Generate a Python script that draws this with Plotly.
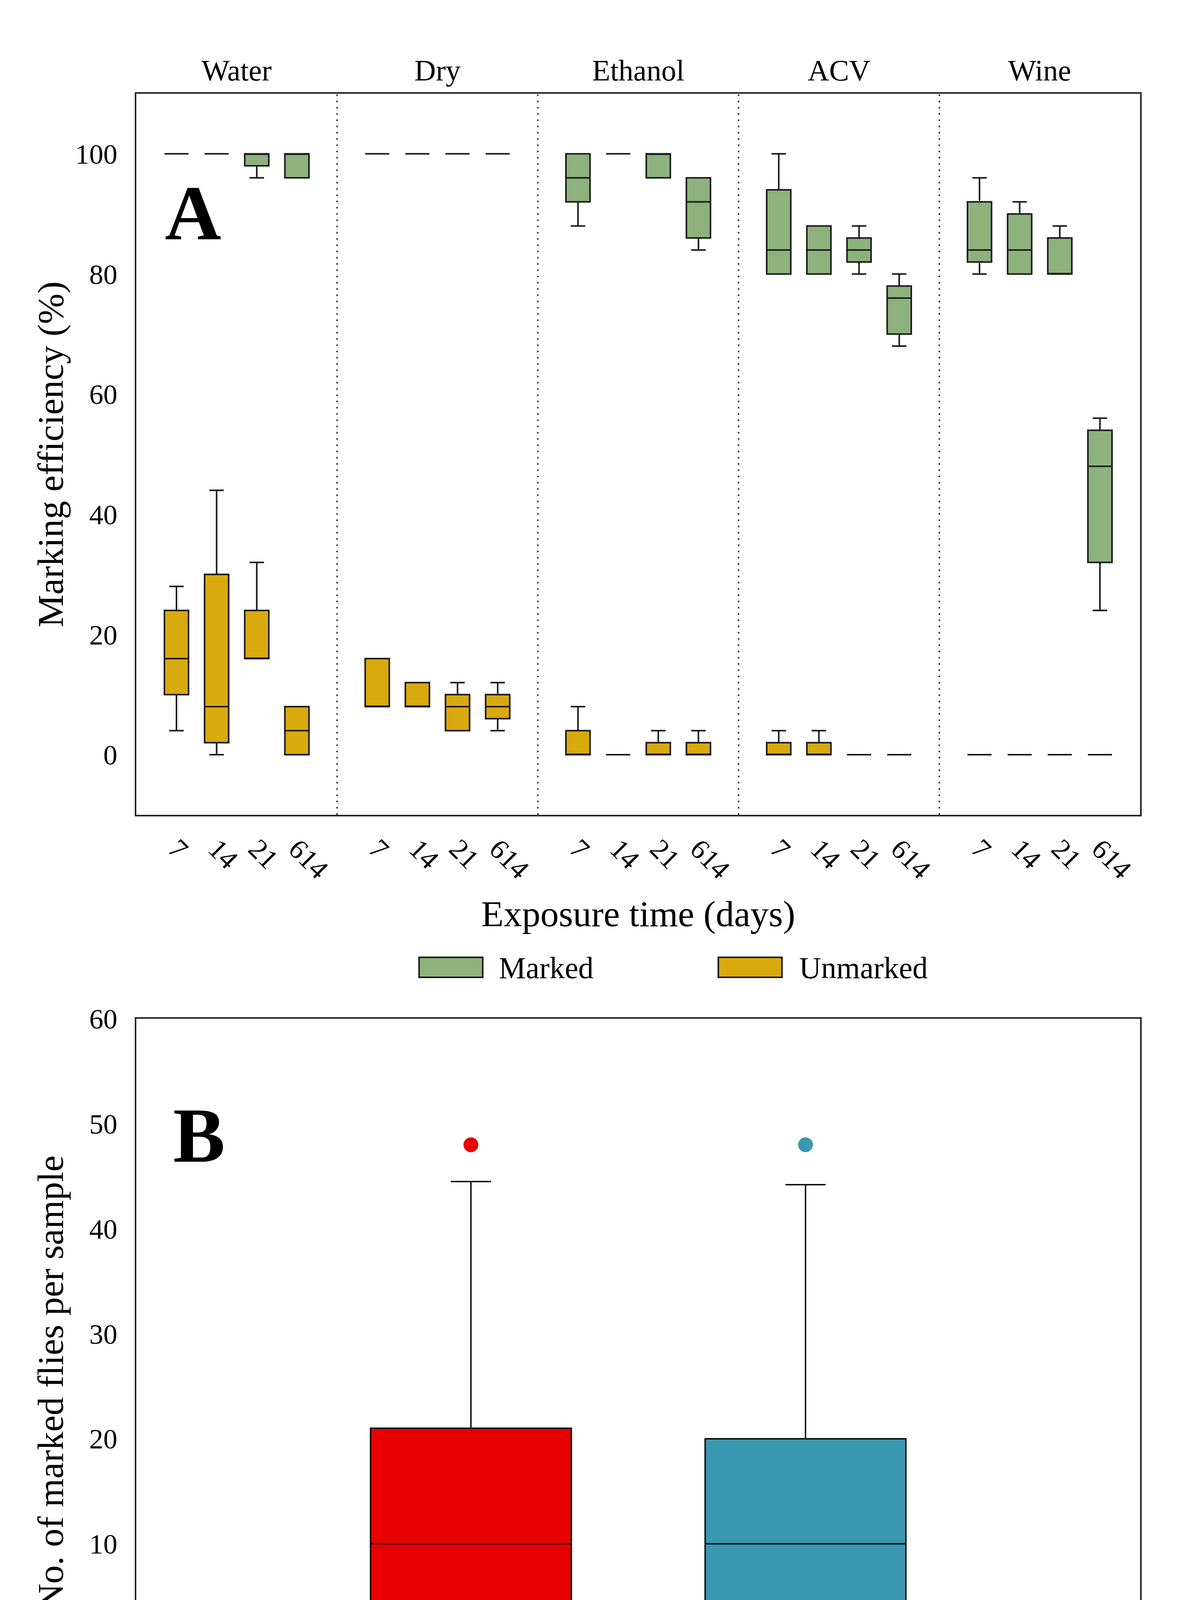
import plotly.graph_objects as go

# categories
groups = ["Water", "Dry", "Ethanol", "ACV", "Wine"]
days = ["7", "14", "21", "614"]

# Panel A - marked flies (%), per group x exposure time
marked_q1 = [100, 100, 98, 96, 100, 100, 100, 100, 92, 100, 96, 86, 80, 80, 82, 70, 82, 80, 80, 32]
marked_med = [100, 100, 100, 100, 100, 100, 100, 100, 96, 100, 100, 92, 84, 84, 84, 76, 84, 84, 80, 48]
marked_q3 = [100, 100, 100, 100, 100, 100, 100, 100, 100, 100, 100, 96, 94, 88, 86, 78, 92, 90, 86, 54]
marked_lo = [100, 100, 96, 96, 100, 100, 100, 100, 88, 100, 96, 84, 80, 80, 80, 68, 80, 80, 80, 24]
marked_hi = [100, 100, 100, 100, 100, 100, 100, 100, 100, 100, 100, 96, 100, 88, 88, 80, 96, 92, 88, 56]

# Panel A - unmarked flies (%)
unmarked_q1 = [10, 2, 16, 0, 8, 8, 4, 6, 0, 0, 0, 0, 0, 0, 0, 0, 0, 0, 0, 0]
unmarked_med = [16, 8, 16, 4, 8, 8, 8, 8, 0, 0, 0, 0, 0, 0, 0, 0, 0, 0, 0, 0]
unmarked_q3 = [24, 30, 24, 8, 16, 12, 10, 10, 4, 0, 2, 2, 2, 2, 0, 0, 0, 0, 0, 0]
unmarked_lo = [4, 0, 16, 0, 8, 8, 4, 4, 0, 0, 0, 0, 0, 0, 0, 0, 0, 0, 0, 0]
unmarked_hi = [28, 44, 32, 8, 16, 12, 12, 12, 8, 0, 4, 4, 4, 4, 0, 0, 0, 0, 0, 0]

# Panel B - marked flies per sample
assessments = ["First", "Second"]
b_q1 = [3.3, 3.3]
b_med = [10, 10]
b_q3 = [21, 20]
b_lo = [1.3, 1.3]
b_hi = [44.5, 44.2]
b_out_hi = [48, 48]
b_out_lo = [1, 1]

FONT = "Liberation Serif"
green = "#8db27c"
yellow = "#d9aa0d"
b_colors = ["#e80000", "#3a98b1"]
edge = "#1a1a1a"

# numeric positions: 4 boxes per group, 5 slots per group
xpos = [g * 5 + k + 1 for g in range(len(groups)) for k in range(len(days))]
xlabels = [d for g in groups for d in days]

fig = go.Figure()

fig.add_trace(go.Box(
    x=xpos, q1=marked_q1, median=marked_med, q3=marked_q3,
    lowerfence=marked_lo, upperfence=marked_hi,
    name="Marked", fillcolor=green, line=dict(color=edge, width=4),
    width=0.6, whiskerwidth=0.6, boxpoints=False, showlegend=False,
    xaxis="x", yaxis="y"
))
fig.add_trace(go.Box(
    x=xpos, q1=unmarked_q1, median=unmarked_med, q3=unmarked_q3,
    lowerfence=unmarked_lo, upperfence=unmarked_hi,
    name="Unmarked", fillcolor=yellow, line=dict(color=edge, width=4),
    width=0.6, whiskerwidth=0.6, boxpoints=False, showlegend=False,
    xaxis="x", yaxis="y"
))

for i, a in enumerate(assessments):
    fig.add_trace(go.Box(
        x=[a], q1=[b_q1[i]], median=[b_med[i]], q3=[b_q3[i]],
        lowerfence=[b_lo[i]], upperfence=[b_hi[i]],
        name=a, fillcolor=b_colors[i], line=dict(color="black", width=3.5),
        width=0.6, whiskerwidth=0.2, boxpoints=False, showlegend=False,
        xaxis="x2", yaxis="y2"
    ))
    fig.add_trace(go.Scatter(
        x=[a, a], y=[b_out_hi[i], b_out_lo[i]], mode="markers",
        marker=dict(color=b_colors[i], size=38), showlegend=False,
        xaxis="x2", yaxis="y2"
    ))

# dotted separators between treatment groups
for g in range(1, len(groups)):
    fig.add_shape(type="line", xref="x", yref="y domain", x0=g * 5, x1=g * 5, y0=0, y1=1,
                  line=dict(color="#333333", width=4, dash="4px,12px"))

txt = dict(size=94, family=FONT, color="black")
ann = []
for g, name in enumerate(groups):
    ann.append(dict(x=g * 5 + 2.5, xref="x", y=1.0142, yref="paper", text=name,
                    showarrow=False, xanchor="center", yanchor="middle",
                    font=dict(size=76, family=FONT, color="black")))

ann += [
    dict(x=0.0564, y=0.9277, text="<b>A</b>", font=dict(size=200, family=FONT, color="black")),
    dict(x=0.0623, y=0.3682, text="<b>B</b>", font=dict(size=200, family=FONT, color="black")),
    dict(x=-0.0856, y=0.7813, text="Marking efficiency (%)", textangle=-90, font=txt),
    dict(x=0.5, y=0.5026, text="Exposure time (days)", font=txt),
    dict(x=-0.0856, y=0.218, text="No. of marked flies per sample", textangle=-90, font=txt),
    dict(x=0.508, y=-0.05, text="Assessment", font=txt),
]
for a in ann[len(groups):]:
    a.update(xref="paper", yref="paper", showarrow=False, xanchor="center", yanchor="middle")

# legend labels and swatches
ann += [
    dict(x=0.3603, y=0.4697, xref="paper", yref="paper", text="Marked", xanchor="left", yanchor="middle",
         showarrow=False, font=dict(size=78, family=FONT, color="black")),
    dict(x=0.6595, y=0.4697, xref="paper", yref="paper", text="Unmarked", xanchor="left", yanchor="middle",
         showarrow=False, font=dict(size=78, family=FONT, color="black")),
]
fig.add_shape(type="rect", xref="paper", yref="paper", x0=0.2817, x1=0.3451, y0=0.4640, y1=0.4761,
              fillcolor=green, line=dict(color=edge, width=4))
fig.add_shape(type="rect", xref="paper", yref="paper", x0=0.5798, x1=0.6432, y0=0.4640, y1=0.4761,
              fillcolor=yellow, line=dict(color=edge, width=4))

axis_common = dict(showline=True, mirror=True, linecolor="#222222", linewidth=4,
                   showgrid=False, zeroline=False, ticks="",
                   tickfont=dict(size=72, family=FONT, color="black"))

fig.update_layout(
    width=3016, height=4770,
    margin=dict(l=341, r=105, t=232, b=318),
    paper_bgcolor="white", plot_bgcolor="white",
    boxmode="overlay",
    annotations=ann,
    xaxis=dict(domain=[0, 1], range=[0, 25], tickvals=xpos, ticktext=xlabels,
               tickangle=45, ticklabelstandoff=12, anchor="y", **axis_common),
    yaxis=dict(domain=[0.5626, 1], range=[-10, 110], tickvals=[0, 20, 40, 60, 80, 100],
               ticklabelstandoff=30, anchor="x", **axis_common),
    xaxis2=dict(domain=[0, 1], range=[-1, 2], type="category", categoryarray=assessments,
                ticklabelstandoff=40, anchor="y2", **axis_common),
    yaxis2=dict(domain=[0, 0.4389], range=[-8.9, 60.01], dtick=10,
                ticklabelstandoff=30, anchor="x2", **axis_common),
)

fig.write_html("out.html")
